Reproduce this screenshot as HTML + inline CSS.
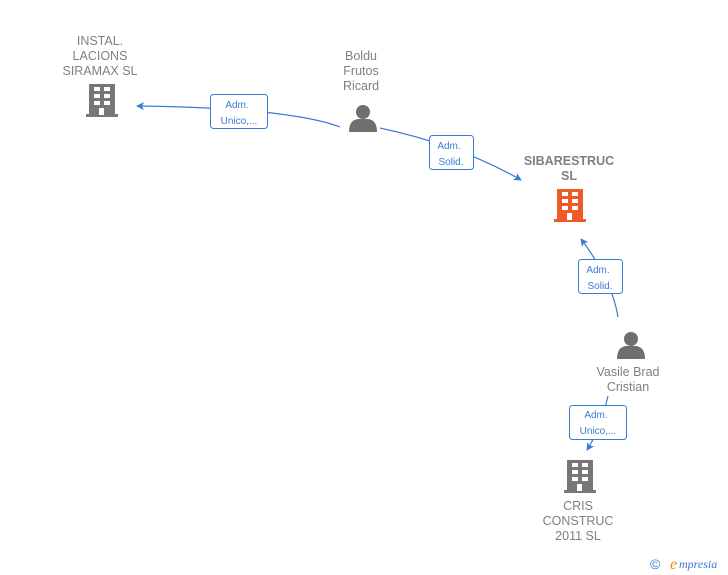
<!DOCTYPE html>
<html><head><style>
body{margin:0;background:#fff;width:728px;height:575px;overflow:hidden;font-family:"Liberation Sans",sans-serif}
svg{position:absolute;left:0;top:0}
.t{font-size:12.5px;fill:#808080;text-anchor:middle}
.b{font-size:10px;fill:#3a7bd5;text-anchor:middle}
</style></head><body>
<svg width="728" height="575" viewBox="0 0 728 575">
<defs>
<g id="bld"><rect x="3" y="0" width="26" height="31"/><rect x="0" y="30" width="32" height="3"/></g>
<g id="win" fill="#fff"><rect x="8" y="3" width="6" height="4"/><rect x="18" y="3" width="6" height="4"/><rect x="8" y="10" width="6" height="4"/><rect x="18" y="10" width="6" height="4"/><rect x="8" y="17" width="6" height="4"/><rect x="18" y="17" width="6" height="4"/><rect x="13" y="24" width="5" height="7"/></g>
<g id="per" fill="#6f6f6f"><circle cx="14" cy="8" r="7"/><path d="M0 28 Q0 16 9 15 L19 15 Q28 16 28 28 Z"/></g>
<marker id="ar" markerWidth="8" markerHeight="8" refX="7" refY="4" orient="auto" markerUnits="userSpaceOnUse"><path d="M0 0 L8 4 L0 8 L2 4Z" fill="#3a7bd5"/></marker>
</defs>
<g fill="none" stroke="#3a7bd5" stroke-width="1.2">
<path d="M340 127 Q290 108 137 106" marker-end="url(#ar)"/>
<path d="M380 128 Q460 145 521 180" marker-end="url(#ar)"/>
<path d="M618 317 Q612 280 581 239" marker-end="url(#ar)"/>
<path d="M608 396 Q600 430 587 450" marker-end="url(#ar)"/>
</g>
<g fill="#777"><use href="#bld" x="86" y="84"/></g><use href="#win" x="86" y="84"/>
<g fill="#f05a2a"><use href="#bld" x="554" y="189"/></g><use href="#win" x="554" y="189"/>
<g fill="#777"><use href="#bld" x="564" y="460"/></g><use href="#win" x="564" y="460"/>
<use href="#per" x="349" y="104"/>
<use href="#per" x="617" y="331"/>
<g>
<text class="t" x="100" y="45">INSTAL.</text><text class="t" x="100" y="60">LACIONS</text><text class="t" x="100" y="75">SIRAMAX  SL</text>
<text class="t" x="361" y="60">Boldu</text><text class="t" x="361" y="75">Frutos</text><text class="t" x="361" y="90">Ricard</text>
<text class="t" x="569" y="165" font-weight="bold">SIBARESTRUC</text><text class="t" x="569" y="180" font-weight="bold">SL</text>
<text class="t" x="628" y="376">Vasile Brad</text><text class="t" x="628" y="391">Cristian</text>
<text class="t" x="578" y="510">CRIS</text><text class="t" x="578" y="525">CONSTRUC</text><text class="t" x="578" y="540">2011 SL</text>
</g>
<g fill="#fff" stroke="#3a7bd5" stroke-width="1">
<rect x="210.5" y="94.5" width="57" height="34" rx="3"/>
<rect x="429.5" y="135.5" width="44" height="34" rx="3"/>
<rect x="578.5" y="259.5" width="44" height="34" rx="3"/>
<rect x="569.5" y="405.5" width="57" height="34" rx="3"/>
</g>
<text class="b" x="237" y="108">Adm.</text><text class="b" x="239" y="124">Unico,...</text>
<text class="b" x="449" y="149">Adm.</text><text class="b" x="451" y="165">Solid.</text>
<text class="b" x="598" y="273">Adm.</text><text class="b" x="600" y="289">Solid.</text>
<text class="b" x="596" y="418">Adm.</text><text class="b" x="598" y="434">Unico,...</text>
<text x="650" y="569" font-size="14" fill="#3a7bd5">©</text>
<text x="670" y="569" font-size="16" font-style="italic" fill="#f08a00" font-family="Liberation Serif,serif">e</text>
<text x="679" y="568" font-size="12" font-style="italic" fill="#3a7bd5" font-family="Liberation Serif,serif">mpresia</text>
</svg>
</body></html>
